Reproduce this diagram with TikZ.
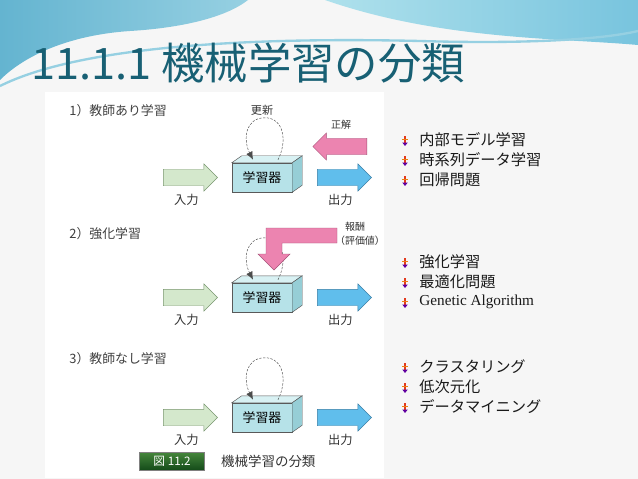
\documentclass[tikz,border=0pt]{standalone}
\usepackage{fontspec}
\setmainfont{Liberation Serif}
\newfontfamily\jp{Noto Sans CJK JP}
\usetikzlibrary{arrows.meta, positioning, shapes.arrows, calc}

\definecolor{titleblue}{RGB}{24,96,116}
\definecolor{bgGray}{RGB}{246,246,246}
\definecolor{bannerA}{RGB}{100,180,208}
\definecolor{bannerB}{RGB}{150,208,226}
\definecolor{bannerC}{RGB}{175,225,236}
\definecolor{bannerD}{RGB}{120,196,222}
\definecolor{boxfront}{RGB}{182,226,232}
\definecolor{boxtop}{RGB}{216,241,243}
\definecolor{boxside}{RGB}{150,206,214}
\definecolor{infill}{RGB}{212,232,204}
\definecolor{inedge}{RGB}{120,150,110}
\definecolor{outfill}{RGB}{96,190,236}
\definecolor{outedge}{RGB}{55,125,165}
\definecolor{ansfill}{RGB}{236,132,176}
\definecolor{ansedge}{RGB}{165,80,118}
\definecolor{figgreenA}{RGB}{70,135,60}
\definecolor{figgreenB}{RGB}{20,75,25}

\begin{document}
\begin{tikzpicture}[
	x=0.03cm, y=-0.03cm,
	every node/.style={inner sep=1pt, font=\jp},
	heading/.style={anchor=west, text=black!75, font=\jp\fontsize{11}{13}\selectfont},
	learner/.style={draw=black!65, fill=boxfront, minimum width=1.8cm, minimum height=0.87cm, font=\jp\fontsize{11}{13}\selectfont},
	blockarrow/.style={single arrow, inner xsep=0pt, inner ysep=0.24cm, minimum height=1.62cm, single arrow head extend=0.16cm},
	in_arrow/.style={blockarrow, draw=inedge, fill=infill},
	out_arrow/.style={blockarrow, draw=outedge, fill=outfill},
	ans_arrow/.style={blockarrow, draw=ansedge, fill=ansfill, shape border rotate=180},
	io_label/.style={font=\jp\fontsize{10.5}{12}\selectfont, text=black!80},
	small_label/.style={font=\jp\fontsize{8.5}{10}\selectfont, text=black!80},
	loop_arrow/.style={draw=black!70, dash pattern=on 2pt off 1.2pt, thin, -{Latex[length=2.4mm, width=2mm]}},
	item/.style={anchor=west, font=\jp\fontsize{13}{15}\selectfont, text=black!90},
	bul_icon/.pic={
		\fill[red!55!brown] (-0.7,-5) rectangle (0.7,2);
		\fill[orange!70!brown] (-3.2,-2.4) rectangle (3.2,-1);
		\fill[blue!50!purple] (-2.8,1.5) -- (2.8,1.5) -- (0,5) -- cycle;
	}
	]
	
	% --- FUNDO E FAIXA DO TOPO ---
	\fill[bgGray] (0,0) rectangle (638,479);
	\useasboundingbox (0,0) rectangle (638,479);
	\shade[left color=bannerA, right color=bannerB] (0,0) -- (248,0) .. controls (225,18) and (180,28) .. (130,31) .. controls (70,35) and (25,55) .. (0,80) -- cycle;
	\shade[left color=bannerC, right color=bannerD] (325,0) -- (638,0) -- (638,45) .. controls (560,38) and (440,40) .. (325,0) -- cycle;
	\draw[bannerB, line width=2pt] (0,86) .. controls (80,46) and (250,37) .. (420,41) .. controls (520,44) and (600,40) .. (638,31);
	\fill[white] (45,92) rectangle (384,478);
	
	\node[anchor=west, text=titleblue, font=\jp\fontsize{37}{40}\selectfont] (title) at (30,63) {11.1.1 機械学習の分類};
	
	% --- 1) 教師あり学習 ---
	\node[heading] (h1) at (68,111) {1）教師あり学習};
	\node[learner] (box1) at (262,177.5) {学習器};
	\draw[black!65, fill=boxtop] (box1.north west) -- ++(10,-7) -- ($(box1.north east)+(10,-7)$) -- (box1.north east) -- cycle;
	\draw[black!65, fill=boxside] (box1.north east) -- ++(10,-7) -- ($(box1.south east)+(10,-7)$) -- (box1.south east) -- cycle;
	\node[in_arrow, left=0.42cm of box1] (in1) {};
	\node[out_arrow, right=0.75cm of box1] (out1) {};
	\node[ans_arrow] (ans1) at (344,146.5) {};
	\node[io_label, below=0.2cm of in1] (lin1) {入力};
	\node[io_label, below=0.2cm of out1] (lout1) {出力};
	\node[small_label] (lans1) at (341,125) {正解};
	\node[small_label, font=\jp\fontsize{9.5}{11}\selectfont, above=1.38cm of box1] (upd1) {更新};
	\draw[loop_arrow] ($(box1.north)+(16,-3)$) .. controls +(10,-20) and +(18,0) .. ($(box1.north)+(3,-45)$) .. controls +(-20,0) and +(-10,-20) .. ($(box1.north)+(-9,-3)$);
	
	% --- 2) 強化学習 ---
	\node[heading] (h2) at (68,234) {2）強化学習};
	\node[learner] (box2) at (262,297.5) {学習器};
	\draw[black!65, fill=boxtop] (box2.north west) -- ++(10,-7) -- ($(box2.north east)+(10,-7)$) -- (box2.north east) -- cycle;
	\draw[black!65, fill=boxside] (box2.north east) -- ++(10,-7) -- ($(box2.south east)+(10,-7)$) -- (box2.south east) -- cycle;
	\node[in_arrow, left=0.42cm of box2] (in2) {};
	\node[out_arrow, right=0.75cm of box2] (out2) {};
	\node[io_label, below=0.2cm of in2] (lin2) {入力};
	\node[io_label, below=0.2cm of out2] (lout2) {出力};
	\draw[loop_arrow] ($(box2.north)+(16,-3)$) .. controls +(10,-20) and +(18,0) .. ($(box2.north)+(3,-45)$) .. controls +(-20,0) and +(-10,-20) .. ($(box2.north)+(-9,-3)$);
	\draw[draw=ansedge, fill=ansfill] (337,228) -- (266,228) -- (266,254) -- (258,254) -- (274,270) -- (290,254) -- (282,254) -- (282,243) -- (337,243) -- cycle;
	\node[small_label] (rew2) at (355,227) {報酬};
	\node[small_label] (val2) at (360,241) {（評価値）};
	
	% --- 3) 教師なし学習 ---
	\node[heading] (h3) at (68,359) {3）教師なし学習};
	\node[learner] (box3) at (262,417.5) {学習器};
	\draw[black!65, fill=boxtop] (box3.north west) -- ++(10,-7) -- ($(box3.north east)+(10,-7)$) -- (box3.north east) -- cycle;
	\draw[black!65, fill=boxside] (box3.north east) -- ++(10,-7) -- ($(box3.south east)+(10,-7)$) -- (box3.south east) -- cycle;
	\node[in_arrow, left=0.42cm of box3] (in3) {};
	\node[out_arrow, right=0.75cm of box3] (out3) {};
	\node[io_label, below=0.2cm of in3] (lin3) {入力};
	\node[io_label, below=0.2cm of out3] (lout3) {出力};
	\draw[loop_arrow] ($(box3.north)+(16,-3)$) .. controls +(10,-20) and +(18,0) .. ($(box3.north)+(3,-45)$) .. controls +(-20,0) and +(-10,-20) .. ($(box3.north)+(-9,-3)$);
	
	% --- LEGENDA ---
	\node[draw=black!50, top color=figgreenA, bottom color=figgreenB, text=white, minimum width=1.95cm, minimum height=0.54cm, font=\jp\fontsize{10}{12}\selectfont] (fig) at (172,461) {図 11.2};
	\node[io_label, font=\jp\fontsize{11.5}{13}\selectfont, right=0.45cm of fig] (cap) {機械学習の分類};
	
	% --- LISTAS ---
	\node[item] (t1a) at (418,140) {内部モデル学習};
	\node[item] (t1b) at (418,160) {時系列データ学習};
	\node[item] (t1c) at (418,180) {回帰問題};
	\node[item] (t2a) at (418,262) {強化学習};
	\node[item] (t2b) at (418,282) {最適化問題};
	\node[item, font=\rmfamily\fontsize{13}{15}\selectfont] (t2c) at (418,302) {Genetic Algorithm};
	\node[item] (t3a) at (418,367) {クラスタリング};
	\node[item] (t3b) at (418,387) {低次元化};
	\node[item] (t3c) at (418,407) {データマイニング};
	\pic at (405,141) {bul_icon};
	\pic at (405,161) {bul_icon};
	\pic at (405,181) {bul_icon};
	\pic at (405,263) {bul_icon};
	\pic at (405,283) {bul_icon};
	\pic at (405,303) {bul_icon};
	\pic at (405,368) {bul_icon};
	\pic at (405,388) {bul_icon};
	\pic at (405,408) {bul_icon};
	
\end{tikzpicture}
\end{document}
